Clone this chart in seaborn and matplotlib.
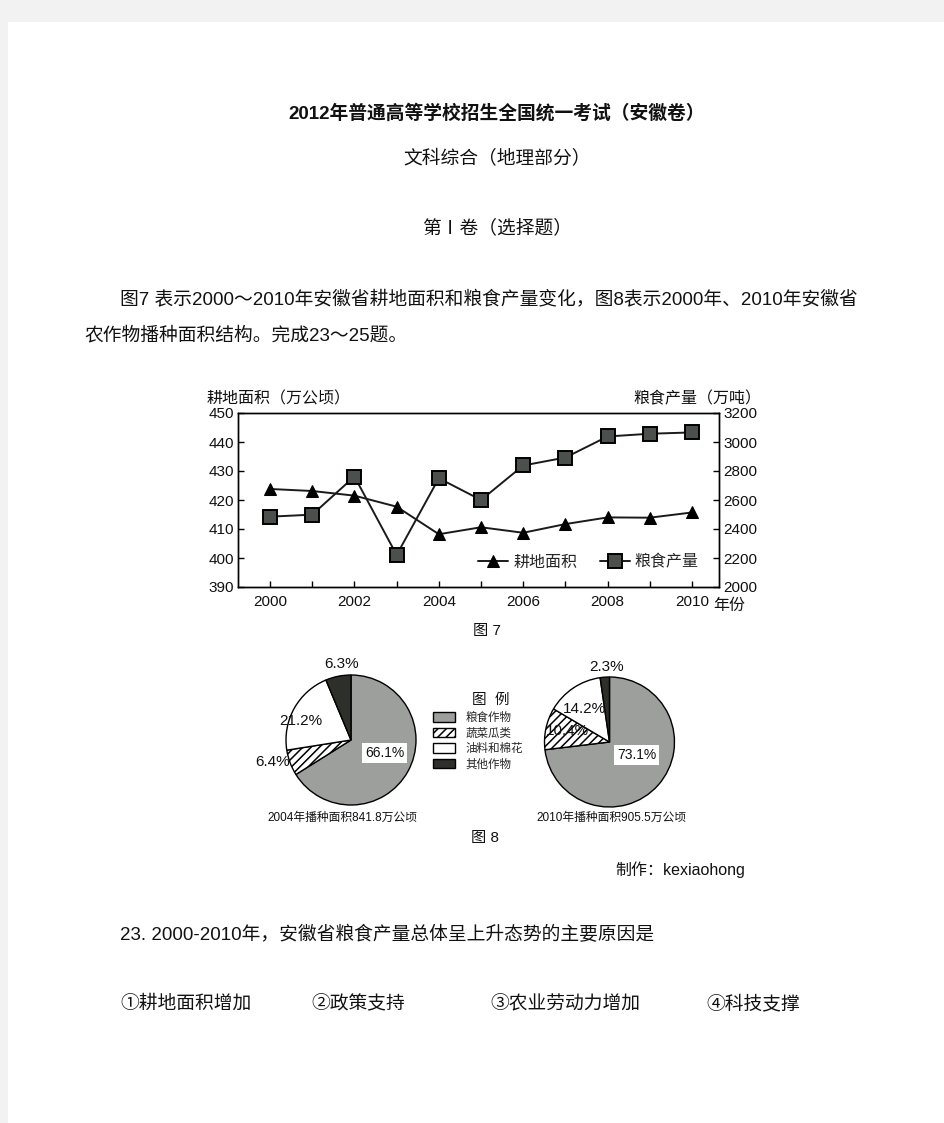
import numpy as np
import pandas as pd
import matplotlib
matplotlib.use("Agg")
import matplotlib.pyplot as plt
import seaborn as sns
from matplotlib.patches import Rectangle

# ---------------- data ----------------
years = [2000, 2001, 2002, 2003, 2004, 2005, 2006, 2007, 2008, 2009, 2010]
area = [423.8, 423.1, 421.5, 417.7, 408.2, 410.6, 408.7, 411.7, 414.0, 413.9, 415.7]
grain = [2485, 2499, 2762, 2221, 2750, 2600, 2838, 2893, 3038, 3057, 3066]
year_labels = ["2000", "", "2002", "", "2004", "", "2006", "", "2008", "", "2010"]
left_ticks = [390, 400, 410, 420, 430, 440, 450]
right_ticks = [2000, 2200, 2400, 2600, 2800, 3000, 3200]

pie_categories = ["粮食作物", "蔬菜瓜类", "油料和棉花", "其他作物"]
pie2004 = [66.1, 6.4, 21.2, 6.3]
pie2010 = [73.1, 10.4, 14.2, 2.3]
pie_captions = ["2004年播种面积841.8万公顷", "2010年播种面积905.5万公顷"]

# ---------------- style ----------------
sns.set_theme(style="white")
plt.rcParams["font.family"] = ["Liberation Sans", "Noto Sans CJK SC", "DejaVu Sans"]
plt.rcParams["hatch.linewidth"] = 1.1
plt.rcParams["axes.edgecolor"] = "black"

W, H = 945, 1123
fig = plt.figure(figsize=(W / 100, H / 100), dpi=100)
fig.patch.set_facecolor("#f2f2f2")
fig.patches.append(Rectangle((8 / W, 0), 1, 1 - 22 / H, transform=fig.transFigure,
                             facecolor="white", edgecolor="none", zorder=-10))


def fx(x):
    return x / W


def fy(y):
    return 1 - y / H


def ftext(x, y, s, size=13.5, ha="left", **kw):
    # y is the visual centre of the CJK glyphs; convert to a baseline position
    yb = y + 0.38 * size * 100 / 72
    fig.text(fx(x), fy(yb), s, fontsize=size, ha=ha, va="baseline", color="#111111", **kw)


# ---------------- page text ----------------
ftext(497, 111, "2012年普通高等学校招生全国统一考试（安徽卷）", size=13.5, ha="center", fontweight="bold")
ftext(497, 157, "文科综合（地理部分）", ha="center")
ftext(497, 226, "第Ⅰ卷（选择题）", ha="center")
ftext(120, 298, "图7 表示2000～2010年安徽省耕地面积和粮食产量变化，图8表示2000年、2010年安徽省")
ftext(84, 333, "农作物播种面积结构。完成23～25题。")
ftext(615, 869, "制作：kexiaohong", size=11.5)
ftext(120, 933, "23. 2000-2010年，安徽省粮食产量总体呈上升态势的主要原因是")
ftext(120, 1002, "①耕地面积增加")
ftext(311, 1002, "②政策支持")
ftext(490, 1002, "③农业劳动力增加")
ftext(706, 1002, "④科技支撑")

# ---------------- line chart ----------------
L, R, T, B = 238, 719, 413, 587
ax = fig.add_axes([fx(L), fy(B), (R - L) / W, (B - T) / H])
ax2 = ax.twinx()
df = pd.DataFrame({"年份": years, "耕地面积": area, "粮食产量": grain})

sns.lineplot(data=df, x="年份", y="耕地面积", ax=ax, color="#1a1a1a", lw=1.4,
             marker="^", markersize=9, markerfacecolor="black", markeredgecolor="black",
             label="耕地面积", legend=False)
sns.lineplot(data=df, x="年份", y="粮食产量", ax=ax2, color="#1a1a1a", lw=1.4,
             marker="s", markersize=9.5, markerfacecolor="#4b504c", markeredgecolor="black",
             markeredgewidth=1.4, label="粮食产量", legend=False)

ax.set_xlim(1999.24, 2010.64)
ax.set_ylim(390, 450)
ax2.set_ylim(2000, 3200)
ax.set_xticks(years)
ax.set_xticklabels(year_labels)
ax.set_yticks(left_ticks)
ax2.set_yticks(right_ticks)
ax.set_xlabel("")
ax.set_ylabel("")
ax2.set_ylabel("")
for a in (ax, ax2):
    for sp in a.spines.values():
        sp.set_color("black")
        sp.set_linewidth(1.0)
    a.tick_params(axis="both", direction="in", length=4, width=1, color="black",
                  labelsize=11, labelcolor="#111111", pad=3)
ax.tick_params(axis="x", pad=6)
ax.tick_params(axis="y", left=True, right=False)
ax.tick_params(axis="x", bottom=True, top=False)
ax2.tick_params(axis="y", right=True, left=False)

h1, l1 = ax.get_legend_handles_labels()
h2, l2 = ax2.get_legend_handles_labels()
ax.legend(h1 + h2, l1 + l2, loc="center left", bbox_to_anchor=((478 - L) / (R - L), (B - 562) / (B - T)),
          ncol=2, frameon=False, fontsize=11.5, handlelength=1.9, handletextpad=0.3,
          columnspacing=1.4, borderpad=0, borderaxespad=0)

ftext(207, 397, "耕地面积（万公顷）", size=11.5)
ftext(633, 397, "粮食产量（万吨）", size=11.5)
ftext(713, 604, "年份", size=11.5)
ftext(487, 629, "图 7", size=11, ha="center")

# ---------------- pies ----------------
colors = ["#9c9f9b", "white", "white", "#2d2f2a"]
hatches = [None, "////", None, None]


def draw_pie(cx, cy, values, label_pos, box_idx, caption):
    r = 65
    pax = fig.add_axes([fx(cx - r), fy(cy + r), 2 * r / W, 2 * r / H])
    wedges, _ = pax.pie(values, colors=colors, startangle=90, counterclock=False,
                        radius=1, wedgeprops=dict(edgecolor="black", linewidth=1.0, clip_on=False))
    for w, h in zip(wedges, hatches):
        if h:
            w.set_hatch(h)
    pax.set_xlim(-1, 1)
    pax.set_ylim(-1, 1)
    pax.axis("off")
    for i, (v, (px, py)) in enumerate(zip(values, label_pos)):
        kw = {}
        if i == box_idx:
            kw["bbox"] = dict(boxstyle="square,pad=0.2", facecolor="white", edgecolor="none")
        pax.text(px, py, f"{v}%", ha="center", va="center", fontsize=11 if i != box_idx else 10,
                 color="#111111", **kw)
    ftext(cx - 9 if cx < 400 else cx + 2, 816, caption, size=8.5, ha="center")
    return wedges


wedges = draw_pie(351, 740, pie2004,
                  [(0.52, -0.20), (-1.20, -0.34), (-0.77, 0.29), (-0.14, 1.17)], 0, pie_captions[0])
draw_pie(609.5, 742, pie2010,
         [(0.42, -0.20), (-0.65, 0.17), (-0.39, 0.51), (-0.04, 1.15)], 0, pie_captions[1])

ftext(491, 698, "图  例", size=10.5, ha="center")
fig.legend(wedges, pie_categories, loc="upper left", bbox_to_anchor=(fx(433), fy(712)),
           frameon=False, fontsize=8.3, handlelength=1.9, handleheight=0.9,
           handletextpad=0.9, labelspacing=0.3, borderpad=0, borderaxespad=0)
ftext(485, 836, "图 8", size=11, ha="center")

fig.savefig("out.png", dpi=100, facecolor=fig.get_facecolor())
